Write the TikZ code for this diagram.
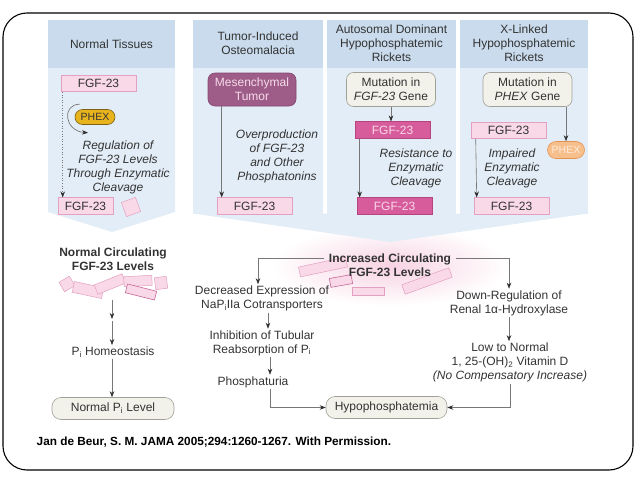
\documentclass[tikz,border=0pt]{standalone}
\usepackage{fontspec}
\setmainfont{Liberation Sans}
\usetikzlibrary{arrows.meta,shapes.geometric}
\definecolor{hdr}{HTML}{C9DBEC}
\definecolor{bodyc}{HTML}{E3EDF7}
\definecolor{glow}{HTML}{F7D2E2}
\definecolor{pinkf}{HTML}{F9D8E7}
\definecolor{pinkd}{HTML}{E3A0C0}
\definecolor{magf}{HTML}{D65C9C}
\definecolor{magd}{HTML}{B8437F}
\definecolor{magtxt}{HTML}{F9D6E8}
\definecolor{purp}{HTML}{9E5C88}
\definecolor{purpd}{HTML}{86476F}
\definecolor{purptxt}{HTML}{F6DCEA}
\definecolor{goldf}{HTML}{E8B41E}
\definecolor{goldd}{HTML}{7E6212}
\definecolor{orf}{HTML}{F7BF8C}
\definecolor{ord}{HTML}{E39350}
\definecolor{ortxt}{HTML}{FCEBDD}
\definecolor{beige}{HTML}{F3F2EA}
\definecolor{beiged}{HTML}{A0A098}
\definecolor{txt}{HTML}{333333}
\definecolor{arr}{HTML}{777777}
\definecolor{tipc}{HTML}{2E2E2E}
\begin{document}
\begin{tikzpicture}[x=1pt,y=-1pt,
  font=\fontsize{12}{14}\selectfont,
  every node/.style={inner sep=1.5pt, align=center, text=txt},
  fgf/.style={draw=pinkd, fill=pinkf, line width=0.6pt, minimum width=75pt, minimum height=16.5pt, inner sep=0pt},
  fgfm/.style={draw=magd, fill=magf, line width=0.6pt, text=magtxt, minimum width=75pt, minimum height=16.5pt, inner sep=0pt},
  mutbox/.style={draw=beiged, fill=beige, line width=0.6pt, rounded corners=7pt, minimum width=89pt, minimum height=34pt, inner sep=0pt},
  pill/.style={draw=beiged, fill=beige, line width=0.6pt, rounded corners=9pt, minimum height=22pt, inner sep=0pt},
  phexg/.style={draw=goldd, fill=goldf, line width=0.6pt, rounded corners=7.5pt, minimum width=40pt, minimum height=15pt, inner sep=0pt, font=\fontsize{10.5}{12}\selectfont, text=txt},
  phexo/.style={draw=ord, fill=orf, line width=0.6pt, rounded corners=8.5pt, minimum width=37pt, minimum height=17pt, inner sep=0pt, font=\fontsize{10.5}{12}\selectfont, text=ortxt},
  tumbox/.style={draw=purpd, fill=purp, line width=0.6pt, rounded corners=7pt, minimum width=88pt, minimum height=33pt, inner sep=0pt, text=purptxt},
  itl/.style={font=\fontsize{12}{14}\selectfont\itshape},
  bld/.style={font=\fontsize{12}{14}\selectfont\bfseries},
  frag/.style={draw=pinkd, fill=pinkf, line width=0.5pt, inner sep=0pt},
  fragm/.style={draw=magd!80, fill=pinkf, line width=0.6pt, inner sep=0pt},
  flow/.style={draw=arr, line width=0.6pt, -{Stealth[length=6pt,width=4.5pt,color=tipc]}},
  flowdot/.style={draw=arr, line width=0.6pt, dotted, -{Stealth[length=6pt,width=4.5pt,color=tipc]}}
]
\useasboundingbox (0,0) rectangle (638,479);
% frame
\draw[line width=1.1pt, rounded corners=24pt] (3,13) rectangle (633,470);
% glow
\shade[inner color=glow, outer color=white] (390,266) ellipse [x radius=118pt, y radius=40pt];
% headers
\fill[hdr] (48,20) rectangle (175,68);
\fill[hdr] (193,20) rectangle (323,68);
\fill[hdr] (327,20) rectangle (456,68);
\fill[hdr] (460,20) rectangle (588,68);
% bodies
\fill[bodyc] (48,68) -- (175,68) -- (175,212) -- (112,232) -- (48,212) -- cycle;
\fill[bodyc] (193,68) rectangle (323,214);
\fill[bodyc] (327,68) rectangle (456,214);
\fill[bodyc] (460,68) rectangle (588,214);
\fill[bodyc] (193,213.5) -- (588,213.5) -- (390,242) -- cycle;

% header texts
\node (h1) at (111.5,44) {Normal Tissues};
\node (h2) at (258,43) {Tumor-Induced\\Osteomalacia};
\node (h3) at (391.5,43) {Autosomal Dominant\\Hypophosphatemic\\Rickets};
\node (h4) at (524,43) {X-Linked\\Hypophosphatemic\\Rickets};

% column 1
\node[fgf] (f1a) at (98.5,83.5) {FGF-23};
\node[phexg] (p1) at (95,117) {PHEX};
\draw[draw=arr, line width=0.7pt, -{Stealth[length=6pt,width=4.5pt,color=tipc]}]
  ([shift={(5pt,5pt)}]p1.north west) .. controls +(-18pt,0pt) and +(-24pt,2pt) .. ([shift={(-7pt,-8pt)}]p1.south);
\node[itl] (t1) at (118,167) {Regulation of\\FGF-23 Levels\\Through Enzymatic\\Cleavage};
\node[fgf, minimum width=55pt] (f1b) at (85.5,206) {FGF-23};
\node[frag, minimum size=15pt, rotate=20] (sq1) at (131,207) {};
\draw[flowdot] ([xshift=2pt]f1a.south west) -- ([xshift=5pt]f1b.north west);

% column 2
\node[tumbox] (tum) at (252,89.5) {Mesenchymal\\Tumor};
\node[itl] (t2) at (277,156) {Overproduction\\of FGF-23\\and Other\\Phosphatonins};
\node[fgf] (f2) at (254.5,206) {FGF-23};
\draw[flow] ([xshift=14pt]tum.south west) -- ([xshift=5pt]f2.north west);

% column 3
\node[mutbox] (m3) at (391,89.5) {Mutation in\\\textit{FGF-23} Gene};
\node[fgfm] (f3a) at (392.5,130) {FGF-23};
\node[itl] (t3) at (416,168) {Resistance to\\Enzymatic\\Cleavage};
\node[fgfm] (f3b) at (394.5,206) {FGF-23};
\draw[flow] (m3.south) -- (m3.south |- f3a.north);
\draw[flow] ([xshift=5pt]f3a.south west) -- ([xshift=3pt]f3b.north west);

% column 4
\node[mutbox] (m4) at (527.5,89.5) {Mutation in\\\textit{PHEX} Gene};
\node[fgf] (f4a) at (508.5,130.5) {FGF-23};
\node[phexo] (p4) at (566,150) {PHEX};
\node[itl] (t4) at (512,168) {Impaired\\Enzymatic\\Cleavage};
\node[fgf] (f4b) at (511.5,206) {FGF-23};
\draw[flow] (m4.south -| p4.north) -- (p4.north);
\draw[flow] ([xshift=5pt]f4a.south west) -- ([xshift=3pt]f4b.north west);

% normal circulating
\node[frag, minimum width=12pt, minimum height=11pt, rotate=30] (n1) at (67,284) {};
\node[frag, minimum width=30pt, minimum height=11pt, rotate=-12] (n2) at (88,290) {};
\node[frag, minimum width=30pt, minimum height=10pt, rotate=22] (n3) at (110,284) {};
\node[frag, minimum width=28pt, minimum height=10pt, rotate=3] (n4) at (138,281) {};
\node[fragm, minimum width=30pt, minimum height=9pt, rotate=-14] (n5) at (141,292) {};
\node[frag, minimum width=12pt, minimum height=12pt, rotate=8] (n6) at (161,283) {};
\node[bld] (nc) at (113,259) {Normal Circulating\\FGF-23 Levels};
\coordinate (a1) at (112,300);
\coordinate (a2) at (112,319);
\coordinate (a3) at (112,321);
\draw[flow] (a1) -- (a2);
\node (pih) at (113,352) {P\textsubscript{i} Homeostasis};
\draw[flow] (a3) -- (a3 |- pih.north);
\node[pill, minimum width=122pt] (npl) at (113,408.5) {Normal P\textsubscript{i} Level};
\draw[flow] (pih.south -| a1) -- (npl.north -| a1);

% increased circulating
\node[frag, minimum width=48pt, minimum height=10pt, rotate=12] (i1) at (323,267) {};
\node[fragm, minimum width=22pt, minimum height=9pt, rotate=10] (i2) at (341,281) {};
\node[frag, minimum width=32pt, minimum height=8pt] (i3) at (368,291) {};
\node[frag, minimum width=50pt, minimum height=10pt, rotate=20] (i4) at (427,281) {};
\node[bld] (inc) at (390,265) {Increased Circulating\\FGF-23 Levels};

\node (dec) at (262,298.5) {Decreased Expression of\\NaP\textsubscript{i}IIa Cotransporters};
\node (inh) at (262,343) {Inhibition of Tubular\\Reabsorption of P\textsubscript{i}};
\node (pho) at (253,382) {Phosphaturia};
\node[pill, minimum width=121pt] (hyp) at (386.5,407.5) {Hypophosphatemia};
\draw[flow] ([xshift=-3pt,yshift=7pt]inc.west) -| ([xshift=-4pt]dec.north);
\draw[flow] ([xshift=6pt]dec.south) -- ([xshift=6pt]dec.south |- inh.north);
\draw[flow] ([xshift=8pt]inh.south) -- ([xshift=8pt]inh.south |- pho.north);
\draw[flow] ([xshift=17pt]pho.south) |- (hyp.west);

\node (down) at (509,303) {Down-Regulation of\\Renal 1α-Hydroxylase};
\node (low) at (510,362.5) {Low to Normal\\1, 25-(OH)\textsubscript{2} Vitamin D\\\textit{(No Compensatory Increase)}};
\draw[flow] ([xshift=3pt,yshift=7pt]inc.east) -| (down.north);
\draw[flow] (down.south) -- (down.south |- low.north);
\draw[flow] (low.south) |- (hyp.east);

% citation
\node[anchor=west, font=\fontsize{11.8}{14}\selectfont\bfseries, text=black] (cite) at (35,442) {Jan de Beur, S. M. JAMA 2005;294:1260-1267. With Permission.};
\end{tikzpicture}
\end{document}
